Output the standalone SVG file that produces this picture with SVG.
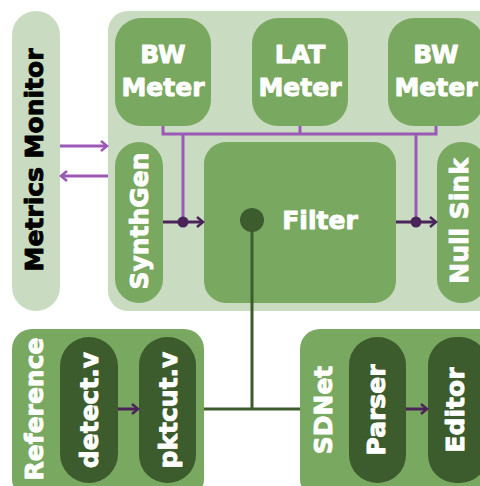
<svg xmlns="http://www.w3.org/2000/svg" width="480" height="486" viewBox="0 0 480 486">
<style>
.lt{fill:#c9dcc1}
.md{fill:#79a860}
.dk{fill:#3d5c2d}
text{font-family:"DejaVu Sans",sans-serif;font-weight:bold;font-size:25px;text-anchor:middle;stroke-width:0.9;stroke-linejoin:round}
.w{fill:#ffffff;stroke:#ffffff}
.b{fill:#000000;stroke:#000000}
.pl{stroke:#9b59b6;stroke-width:3;fill:none}
.pd{stroke:#4a235a;stroke-width:3;fill:none}
.gl{stroke:#3d5c2d;stroke-width:3;fill:none}
</style>
<defs>
<marker id="ahl" markerWidth="10" markerHeight="12" refX="8" refY="6" orient="auto" markerUnits="userSpaceOnUse"><path d="M2,1 L8,6 L2,11" fill="none" stroke="#9b59b6" stroke-width="2.5"/></marker>
<marker id="ahd" markerWidth="10" markerHeight="12" refX="8" refY="6" orient="auto" markerUnits="userSpaceOnUse"><path d="M2,1 L8,6 L2,11" fill="none" stroke="#4a235a" stroke-width="2.5"/></marker>
</defs>
<g id="monitor"><rect class="lt" x="12" y="11" width="48" height="300" rx="24"/><text class="b" font-size="27" transform="translate(43,160) rotate(-90)">Metrics Monitor</text></g>
<g id="container"><rect class="lt" x="108" y="11" width="390" height="300" rx="20"/></g>
<g id="bw1"><rect class="md" x="115" y="18" width="96" height="108" rx="26"/><text class="w" x="163" y="63">BW</text><text class="w" x="163" y="96">Meter</text></g>
<g id="lat"><rect class="md" x="252" y="18" width="96" height="108" rx="26"/><text class="w" x="300" y="63">LAT</text><text class="w" x="300" y="96">Meter</text></g>
<g id="bw2"><rect class="md" x="388" y="18" width="96" height="108" rx="26"/><text class="w" x="436" y="63">BW</text><text class="w" x="436" y="96">Meter</text></g>
<g id="synthgen"><rect class="md" x="115" y="142" width="48" height="161" rx="24"/><text class="w" font-size="26" transform="translate(148,221) rotate(-90)">SynthGen</text></g>
<g id="filter"><rect class="md" x="204" y="142" width="192" height="161" rx="22"/><text class="w" x="320" y="229">Filter</text></g>
<g id="nullsink"><rect class="md" x="437" y="142" width="50" height="161" rx="24"/><text class="w" font-size="26" transform="translate(468,221) rotate(-90)">Null Sink</text></g>
<g id="reference"><rect class="md" x="12" y="329" width="192" height="170" rx="20"/><text class="w" font-size="24" transform="translate(43,409) rotate(-90)">Reference</text></g>
<g id="detect"><rect class="dk" x="60" y="337" width="58" height="146" rx="29"/><text class="w" transform="translate(98,410) rotate(-90)">detect.v</text></g>
<g id="pktcut"><rect class="dk" x="139" y="337" width="57" height="146" rx="28"/><text class="w" transform="translate(177,410) rotate(-90)">pktcut.v</text></g>
<g id="sdnet"><rect class="md" x="300" y="329" width="200" height="170" rx="20"/><text class="w" transform="translate(332,410) rotate(-90)">SDNet</text></g>
<g id="parser"><rect class="dk" x="349" y="337" width="57" height="146" rx="28"/><text class="w" font-size="26" transform="translate(385,410) rotate(-90)">Parser</text></g>
<g id="editor"><rect class="dk" x="428" y="337" width="60" height="146" rx="28"/><text class="w" transform="translate(464,410) rotate(-90)">Editor</text></g>
<g id="connectors">
<path class="pl" d="M163,126 V134 H436 V126 M300,126 V134"/>
<path class="pl" d="M183,134 V222"/>
<path class="pl" d="M416,134 V222"/>
<path class="pl" d="M60,146 H107" marker-end="url(#ahl)"/>
<path class="pl" d="M108,176 H61" marker-end="url(#ahl)"/>
<path class="pd" d="M163,222 H203" marker-end="url(#ahd)"/>
<circle cx="183" cy="222" r="5.5" fill="#4a235a"/>
<path class="pd" d="M396,222 H436" marker-end="url(#ahd)"/>
<circle cx="416" cy="222" r="5.5" fill="#4a235a"/>
<path class="gl" d="M252,220 V409 M204,409 H300"/>
<circle cx="252" cy="220" r="12" fill="#3d5c2d"/>
<path class="pd" d="M118,409 H138" marker-end="url(#ahd)"/>
<path class="pd" d="M406,409 H427" marker-end="url(#ahd)"/>
</g>
</svg>
